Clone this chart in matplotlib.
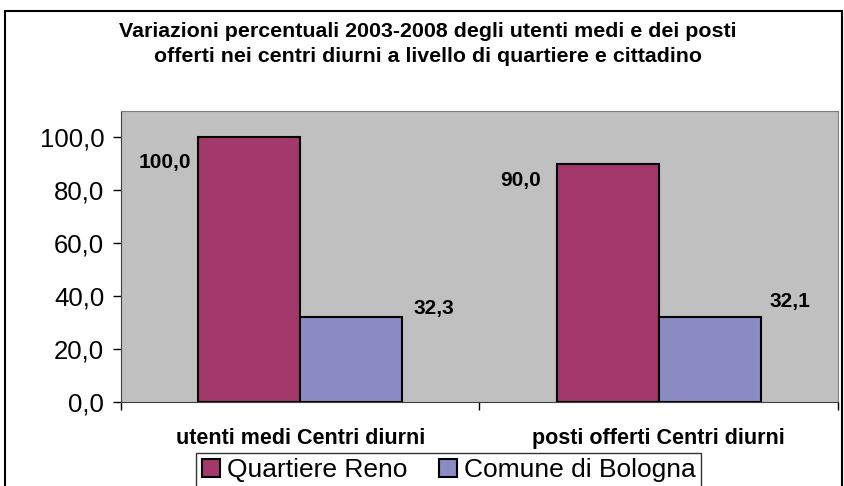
import matplotlib.pyplot as plt
from matplotlib.patches import Rectangle

plt.rcParams['font.family'] = ['Liberation Sans', 'DejaVu Sans']

# Data
categories = ['utenti medi Centri diurni', 'posti offerti Centri diurni']
series_names = ['Quartiere Reno', 'Comune di Bologna']
reno = [100.0, 90.0]
bologna = [32.3, 32.1]
colors = ['#A3386A', '#8A8BC4']

fig = plt.figure(figsize=(8.45, 4.86), dpi=100)
ax = fig.add_axes([121 / 845, 1 - 402 / 486, (838 - 121) / 845, (402 - 111) / 486])
ax.set_facecolor('#C0C0C0')

# Outer border of the chart
fig.patches.append(Rectangle((5 / 845, -0.01), 837 / 845, 1 - 11 / 486 + 0.01,
                             transform=fig.transFigure, fill=False,
                             edgecolor='black', linewidth=1.5))

width = 0.285
x = list(range(len(categories)))
bars1 = ax.bar([i - width / 2 for i in x], reno, width, color=colors[0],
               edgecolor='black', linewidth=1.5, label=series_names[0], zorder=3)
bars2 = ax.bar([i + width / 2 for i in x], bologna, width, color=colors[1],
               edgecolor='black', linewidth=1.5, label=series_names[1], zorder=3)

# Data labels
def fmt(v):
    return f'{v:.1f}'.replace('.', ',')

offsets1 = [(-5, -18), (-11, -12)]
offsets2 = [(8, 6), (6, 11)]
for b, v, off in zip(bars1, reno, offsets1):
    ax.annotate(fmt(v), (b.get_x(), v), xytext=off, textcoords='offset points',
                ha='right', va='center', fontsize=15, fontweight='bold')
for b, v, off in zip(bars2, bologna, offsets2):
    ax.annotate(fmt(v), (b.get_x() + b.get_width(), v), xytext=off, textcoords='offset points',
                ha='left', va='center', fontsize=15, fontweight='bold')

ax.set_ylim(0, 110)
ax.set_xlim(-0.5, 1.5)
ax.set_yticks([0, 20, 40, 60, 80, 100])
ax.set_yticklabels([fmt(v) for v in [0, 20, 40, 60, 80, 100]], fontsize=18.5)
ax.tick_params(axis='y', length=6, width=1, direction='out', pad=6)

ax.set_xticks([-0.5, 0.5, 1.5])
ax.set_xticklabels([])
ax.tick_params(axis='x', which='major', length=6, width=1, direction='out')
ax.set_xticks(x, minor=True)
ax.set_xticklabels(categories, minor=True, fontsize=15.5, fontweight='bold')
ax.tick_params(axis='x', which='minor', length=0, pad=19)

for s in ['top', 'right']:
    ax.spines[s].set_color('#808080')
for s in ['left', 'bottom']:
    ax.spines[s].set_color('#404040')

fig.text(428 / 845, 1 - 44 / 486,
         'Variazioni percentuali 2003-2008 degli utenti medi e dei posti\n'
         'offerti nei centri diurni a livello di quartiere e cittadino',
         ha='center', va='center', fontsize=15.4, fontweight='bold', linespacing=1.4)

leg = fig.legend(loc='center', bbox_to_anchor=(448.5 / 845, 1 - 470 / 486), ncol=2,
                 fontsize=19, frameon=True, fancybox=False, edgecolor='black',
                 handlelength=0.7, handleheight=0.7, handletextpad=0.25,
                 columnspacing=1.2, borderpad=0.2, borderaxespad=0)
leg.get_frame().set_linewidth(1)

fig.savefig('out.png', dpi=100)
